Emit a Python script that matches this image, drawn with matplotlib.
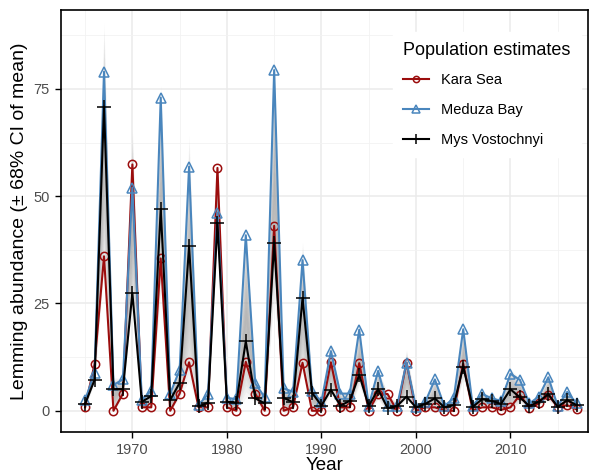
import numpy as np
import matplotlib
matplotlib.use("Agg")
import matplotlib.pyplot as plt
from matplotlib.ticker import MultipleLocator
from matplotlib.lines import Line2D

plt.rcParams['font.family'] = ['Liberation Sans', 'DejaVu Sans']

years = list(range(1965, 2018))

kara_sea = [0.8, 10.9, 36.0, 0.0, 4.0, 57.4, 0.8, 0.8, 35.5, 0.0,
            4.0, 11.3, 0.8, 0.8, 56.6, 0.8, 0.0, 11.4, 4.0, 0.0,
            43.1, 0.0, 0.8, 11.2, 0.0, 0.0, 11.3, 0.8, 0.8, 11.1,
            0.0, 4.0, 3.9, 0.0, 11.2, 0.0, 0.8, 0.8, 0.0, 0.0,
            11.0, 0.0, 0.8, 0.8, 0.2, 0.8, 3.7, 0.6, 1.7, 3.7,
            0.8, 1.3, 0.3]

meduza_bay = [2.5, 8.9, 79.0, 6.0, 7.3, 52.0, 2.5, 4.7, 73.0, 4.0,
              9.5, 56.9, 1.3, 3.9, 46.2, 3.0, 2.7, 40.9, 6.4, 3.1,
              79.4, 5.2, 4.4, 35.1, 4.5, 2.1, 13.9, 4.0, 4.0, 18.9,
              1.1, 9.3, 1.1, 1.1, 11.2, 0.9, 2.1, 7.3, 1.1, 2.9,
              19.0, 1.1, 3.9, 2.9, 2.3, 8.6, 7.2, 1.7, 3.3, 7.8,
              1.1, 4.4, 1.7]

mys_vostochnyi = [1.6, 7.2, 70.9, 5.0, 5.0, 27.5, 2.1, 3.4, 47.0, 2.5,
                  6.5, 38.4, 1.0, 1.9, 43.8, 2.1, 1.9, 16.2, 2.9, 1.7,
                  39.2, 3.0, 2.0, 26.3, 4.2, 1.2, 4.9, 1.2, 2.3, 8.4,
                  1.1, 5.0, 0.6, 1.1, 3.3, 0.8, 1.6, 2.9, 0.8, 1.3,
                  10.3, 0.9, 2.7, 2.3, 1.6, 5.0, 3.1, 1.1, 2.1, 3.9,
                  0.9, 2.5, 1.3]

series_names = ["Kara Sea", "Meduza Bay", "Mys Vostochnyi"]
x_ticks = [1970, 1980, 1990, 2000, 2010]
y_ticks = [0, 25, 50, 75]

fig = plt.figure(figsize=(5.9, 4.74), dpi=100)
ax = fig.add_axes([61/590, 1-432/474, (588-61)/590, (432-10)/474])

yrs = np.array(years)
data = np.vstack([kara_sea, meduza_bay, mys_vostochnyi])
mean = data.mean(axis=0)
sd = data.std(axis=0, ddof=1)

# gradient ribbon
ks = np.linspace(1.25, 0.08, 14)
for k in ks:
    ax.fill_between(yrs, mean - k*sd, mean + k*sd, color='#a8a8a8',
                    alpha=0.10, linewidth=0, zorder=2)

styles = [
    dict(color='#9b0d0d', marker='o', ms=6, mfc='none', mew=1.1),
    dict(color='#4a86bd', marker='^', ms=7, mfc='none', mew=1.1),
    dict(color='black', marker='+', ms=10, mew=1.1),
]
for vals, name, st in zip(data, series_names, styles):
    ax.plot(yrs, vals, lw=1.5, label=name, zorder=3, **st)

ax.set_xlim(1962.45, 2018.2)
ax.set_ylim(-4.95, 93.4)
ax.set_xticks(x_ticks)
ax.set_yticks(y_ticks)
ax.xaxis.set_minor_locator(MultipleLocator(5))
ax.yaxis.set_minor_locator(MultipleLocator(12.5))
ax.grid(which='major', color='#ebebeb', lw=1.1, zorder=0)
ax.grid(which='minor', color='#f2f2f2', lw=0.6, zorder=0)
ax.set_axisbelow(True)
ax.tick_params(which='major', length=4, width=1, color='black',
               labelsize=10.5, labelcolor='#4d4d4d', pad=4)
ax.tick_params(which='minor', length=0)
for s in ax.spines.values():
    s.set_linewidth(1.2)
    s.set_color('black')

ax.set_xlabel("Year", fontsize=13.5, labelpad=0)
ax.set_ylabel("Lemming abundance (± 68% CI of mean)", fontsize=14, labelpad=4)

handles = [Line2D([0], [0], lw=1.5, **st) for st in styles]
for h, st in zip(handles, styles):
    h.set_markersize(st['ms'] * 0.75)
leg = ax.legend(handles, series_names, title="Population estimates",
                loc='upper right', bbox_to_anchor=(1.0, 0.965),
                frameon=True, fancybox=False, edgecolor='white',
                framealpha=1, fontsize=10.5, title_fontsize=13,
                handlelength=1.8, labelspacing=1.1, borderpad=0.7,
                handletextpad=0.8)
leg._legend_box.align = "left"
leg.get_title().set_position((0, 0))
leg._legend_box.sep = 10
leg.set_zorder(5)

fig.savefig("out.png", dpi=100)
